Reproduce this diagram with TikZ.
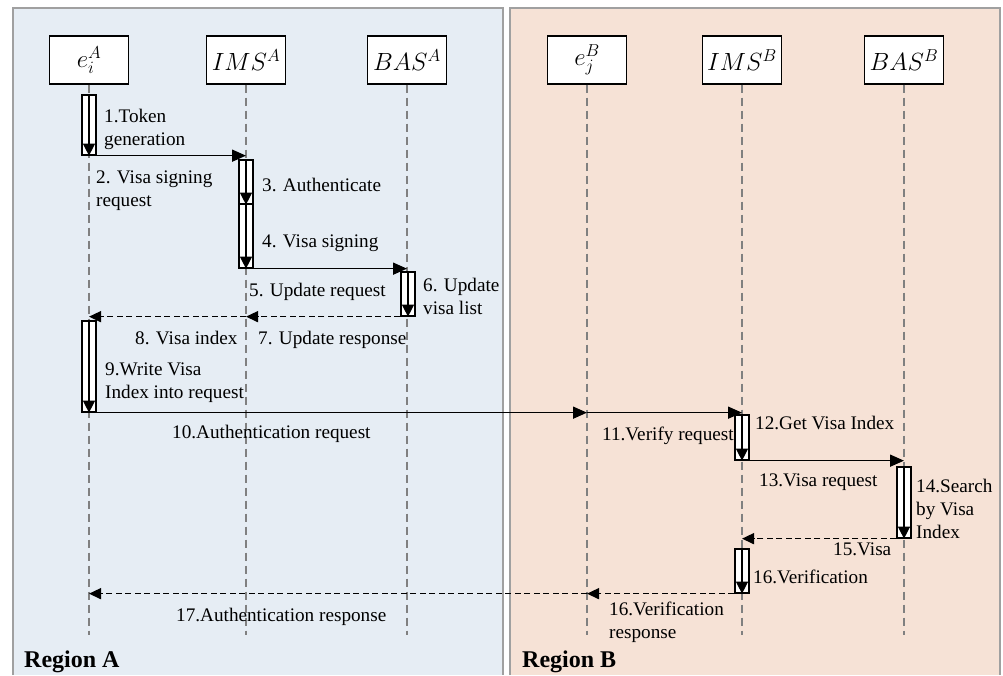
\documentclass[tikz,border=0pt]{standalone}
\usepackage{fontspec}
\setmainfont{Liberation Serif}
\usetikzlibrary{arrows.meta}
\definecolor{regA}{RGB}{230,237,244}
\definecolor{regB}{RGB}{246,226,214}
\definecolor{framec}{RGB}{160,160,160}
\definecolor{lifec}{RGB}{128,128,128}
\tikzset{
 actor/.style={draw=black, line width=1.4pt, fill=white, minimum width=79pt, minimum height=48pt, inner sep=0pt, font=\fontsize{23}{27}\selectfont},
 lifeline/.style={draw=lifec, line width=2pt, dash pattern=on 8pt off 5pt},
 actbar/.style={rectangle, draw=black, line width=1.3pt, fill=white, minimum width=14pt, inner sep=0pt},
 barline/.style={line width=1.3pt, -{Triangle[width=12pt,length=12pt]}},
 msg/.style={line width=1.6pt, -{Triangle[width=12pt,length=14pt]}},
 reply/.style={line width=1.4pt, dash pattern=on 6pt off 3.5pt, -{Triangle[width=11pt,length=12pt]}},
 lbl/.style={anchor=base west, inner sep=0pt, align=left, font=\fontsize{19.2}{22.8}\selectfont},
 regionlbl/.style={anchor=base west, inner sep=0pt, font=\fontsize{24}{28}\selectfont\bfseries},
 panelframe/.style={draw=framec, line width=1.3pt},
}
\begin{document}
\begin{tikzpicture}[x=1pt, y=-1pt]
\useasboundingbox (0,0) rectangle (1003,675);
% panels
\fill[regA] (13,8) rectangle (503,675);
\draw[panelframe] (13,675) -- (13,8) -- (503,8) -- (503,675);
\fill[regB] (510,8) rectangle (1000,675);
\draw[panelframe] (510,675) -- (510,8) -- (1000,8) -- (1000,675);
% actors
\node[actor] (eA) at (89,60) {$e_i^A$};
\node[actor] (imsA) at (246,60) {$IMS^A$};
\node[actor] (basA) at (407,60) {$BAS^A$};
\node[actor] (eB) at (587,60) {$e_j^B$};
\node[actor] (imsB) at (742,60) {$IMS^B$};
\node[actor] (basB) at (904,60) {$BAS^B$};
% lifeline ends
\coordinate (eAend) at (89,635);
\coordinate (imsAend) at (246,635);
\coordinate (basAend) at (407,635);
\coordinate (eBend) at (587,635);
\coordinate (imsBend) at (742,635);
\coordinate (basBend) at (904,635);
\draw[lifeline] (eA.south) -- (eAend);
\draw[lifeline] (imsA.south) -- (imsAend);
\draw[lifeline] (basA.south) -- (basAend);
\draw[lifeline] (eB.south) -- (eBend);
\draw[lifeline] (imsB.south) -- (imsBend);
\draw[lifeline] (basB.south) -- (basBend);
% activation bars
\node[actbar, minimum height=60pt] (b1) at (89,125) {};
\node[actbar, minimum height=44pt] (b3) at (246,182) {};
\node[actbar, minimum height=64pt] (b4) at (246,236) {};
\node[actbar, minimum height=44pt] (b6) at (408,294) {};
\node[actbar, minimum height=91pt] (b9) at (89,366.5) {};
\node[actbar, minimum height=45pt] (b12) at (742,437.5) {};
\node[actbar, minimum height=71pt] (b14) at (904,502.5) {};
\node[actbar, minimum height=44pt] (b16) at (742,571) {};
\foreach \b in {b1,b3,b4,b6,b9,b12,b14,b16}
  \draw[barline] (\b.north) -- (\b.south);
% messages
\draw[msg] (b1.south east) -- (b1.south east -| imsA);
\draw[msg] (b4.south east) -- (b4.south east -| basA);
\draw[reply] (b6.south west) -- (b6.south west -| imsA);
\draw[reply] (b6.south west -| imsA) -- (b6.south west -| eA);
\draw[msg] (b9.south east) -- (b9.south east -| eB);
\draw[msg] (b9.south east -| eB) -- (b9.south east -| imsB);
\draw[msg] (b12.south) -- (b12.south -| basB);
\draw[reply] (b14.south west) -- (b14.south west -| imsB);
\draw[reply] (b16.south west) -- (b16.south west -| eB);
\draw[reply] (b16.south west -| eB) -- (b16.south west -| eA);
% labels (multi-line: base = last line)
\node[lbl] (l1) at (104,145) {1.Token\\generation};
\node[lbl] (l2) at (96,206) {2. Visa signing\\request};
\node[lbl] (l3) at (262,191) {3. Authenticate};
\node[lbl] (l4) at (262,247) {4. Visa signing};
\node[lbl] (l5) at (249,296) {5. Update request};
\node[lbl] (l6) at (423,314) {6. Update\\visa list};
\node[lbl] (l7) at (258,344) {7. Update response};
\node[lbl] (l8) at (135,344) {8. Visa index};
\node[lbl] (l9) at (105,398) {9.Write Visa\\Index into request};
\node[lbl] (l10) at (172,438) {10.Authentication request};
\node[lbl] (l11) at (602,440) {11.Verify request};
\node[lbl] (l12) at (755,429) {12.Get Visa Index};
\node[lbl] (l13) at (759,486) {13.Visa request};
\node[lbl] (l14) at (916,538) {14.Search\\by Visa\\Index};
\node[lbl] (l15) at (833,555) {15.Visa};
\node[lbl] (l16) at (753,583) {16.Verification};
\node[lbl] (l16b) at (609,638) {16.Verification\\response};
\node[lbl] (l17) at (176,621) {17.Authentication response};
\node[regionlbl] (rA) at (24,667) {Region A};
\node[regionlbl] (rB) at (522,667) {Region B};
\end{tikzpicture}
\end{document}
